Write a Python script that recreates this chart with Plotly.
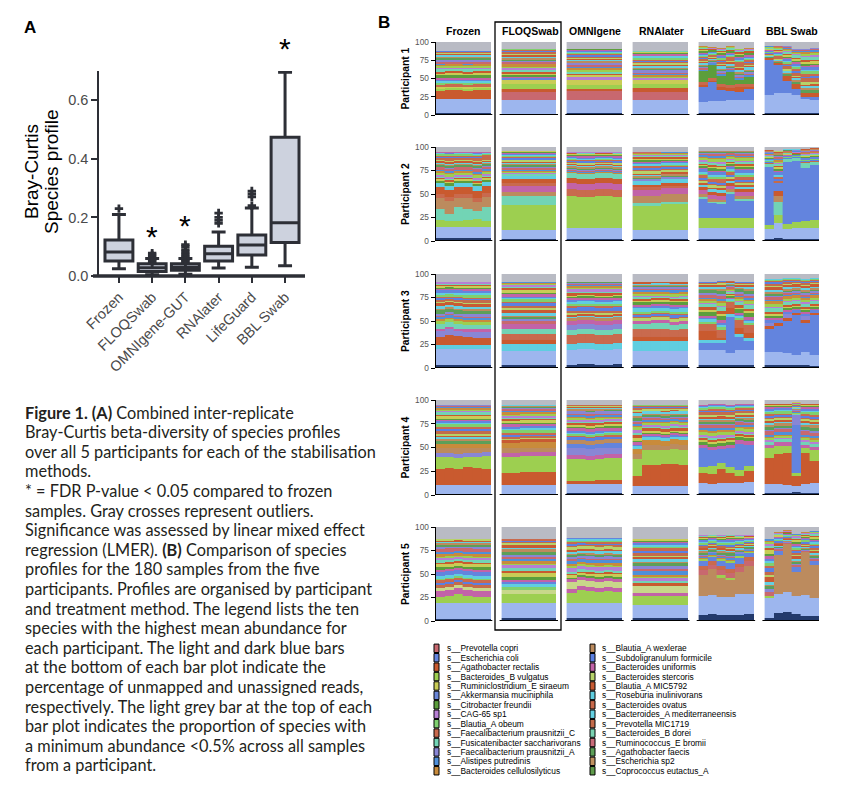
import plotly.graph_objects as go

W, H = 848, 804

# ---------------- Panel A data ----------------
METHODS_A = ["Frozen", "FLOQSwab", "OMNIgene-GUT", "RNAlater", "LifeGuard", "BBL Swab"]
BOX_Q1 = [0.051, 0.015, 0.020, 0.051, 0.072, 0.114]
BOX_MED = [0.082, 0.028, 0.030, 0.076, 0.106, 0.182]
BOX_Q3 = [0.123, 0.042, 0.042, 0.102, 0.140, 0.474]
BOX_LO = [0.025, 0.004, 0.006, 0.027, 0.030, 0.035]
BOX_HI = [0.210, 0.060, 0.060, 0.150, 0.232, 0.696]
OUT_FROZEN = [0.23]
OUT_FLOQ = [0.045, 0.05, 0.055, 0.06, 0.065, 0.072, 0.078]
OUT_OMNI = [0.045, 0.05, 0.055, 0.062, 0.068, 0.075, 0.082, 0.09, 0.1, 0.107]
OUT_RNA = [0.18, 0.19, 0.20, 0.215]
OUT_LG = [0.24, 0.27, 0.28, 0.29]
OUT_BBL = []
STAR_VALUES = [None, 0.147, 0.185, None, None, 0.79]
Y_MAX_A = 0.7
Y_TICKS_A = [0.0, 0.2, 0.4, 0.6]

# ---------------- Panel B data ----------------
METHODS_B = ["Frozen", "FLOQSwab", "OMNIgene", "RNAlater", "LifeGuard", "BBL Swab"]
PARTICIPANTS = ["Participant 1", "Participant 2", "Participant 3", "Participant 4", "Participant 5"]
Y_TICKS_B = [0, 25, 50, 75, 100]

SPECIES_COL1 = ["s__Prevotella copri", "s__Escherichia coli", "s__Agathobacter rectalis",
                "s__Bacteroides_B vulgatus", "s__Ruminiclostridium_E siraeum",
                "s__Akkermansia muciniphila", "s__Citrobacter freundii", "s__CAG-65 sp1",
                "s__Blautia_A obeum", "s__Faecalibacterium prausnitzii_C",
                "s__Fusicatenibacter saccharivorans", "s__Faecalibacterium prausnitzii_A",
                "s__Alistipes putredinis", "s__Bacteroides cellulosilyticus"]
COLORS_COL1 = ["#c8686f", "#6384de", "#c95a2f", "#9dcf50", "#c9cc56", "#6a86d8", "#5c9e3c",
               "#b77fd4", "#7fd06f", "#c96a4e", "#72d4b5", "#8986d5", "#4f8fd9", "#c98b3b"]
SPECIES_COL2 = ["s__Blautia_A wexlerae", "s__Subdoligranulum formicile", "s__Bacteroides uniformis",
                "s__Bacteroides stercoris", "s__Blautia_A MIC5792", "s__Roseburia inulinivorans",
                "s__Bacteroides ovatus", "s__Bacteroides_A mediterraneensis", "s__Prevotella MIC1719",
                "s__Bacteroides_B dorei", "s__Ruminococcus_E bromii", "s__Agathobacter faecis",
                "s__Escherichia sp2", "s__Coprococcus eutactus_A"]
COLORS_COL2 = ["#bc8b5e", "#5b80e2", "#c263a8", "#b7d26a", "#c85b33", "#60cee0", "#c8694b",
               "#64d0e2", "#c46b4b", "#79d1b1", "#c86b79", "#5d9f59", "#c09160", "#5f9b4b"]

PAL = {"NV": "#233a6c", "LB": "#9db6ee", "GR": "#b9bbc4",
       "PC": "#c8686f", "EC": "#6384de", "AR": "#c95a2f", "BV": "#9dcf50", "RS": "#c9cc56",
       "CF": "#5c9e3c", "CG": "#b77fd4", "FC": "#c96a4e", "FS": "#72d4b5", "FA": "#8986d5",
       "BC": "#c98b3b", "BW": "#bc8b5e", "BU": "#c263a8", "BS": "#c8d88a", "RI": "#60cee0"}

# minor species stripes (colour cycle and relative thickness)
STRIPE_COLORS = ["#c96a4e", "#7fd06f", "#60cee0", "#6384de", "#c263a8", "#5c9e3c", "#c9cc56",
                 "#c95a2f", "#72d4b5", "#b77fd4", "#9dcf50", "#c98b3b", "#4f8fd9", "#c8686f",
                 "#8986d5", "#5d9f59", "#bc8b5e", "#64d0e2", "#c85b33", "#b7d26a", "#c46b4b",
                 "#5b80e2"]
STRIPE_WEIGHTS = [2.5, 1.5, 2.0, 1.0, 2.0, 3.0, 1.5, 2.0, 2.5, 1.0, 2.0, 1.5,
                  1.0, 2.0, 1.5, 2.5, 1.0, 1.5, 1.5, 1.0, 1.0, 1.0]

P1_FROZEN = [("NV", 3), ("LB", 19), ("AR", [11, 12, 12, 11, 12, 12]), ("BV", 3), ("RS", 2)]
P1_FLOQ = [("NV", 2), ("LB", 18), ("PC", 11), ("AR", 4), ("BV", 7), ("RS", 6)]
P1_OMNI = [("NV", 3), ("LB", 17), ("PC", 13), ("AR", 3), ("BV", 5), ("RS", 7), ("CG", 4)]
P1_RNA = [("NV", 2), ("LB", 18), ("PC", 12), ("AR", 5), ("BV", 6), ("RS", 5)]
P1_LG = [("NV", 3), ("LB", [15, 16, 16, 17, 18, 18]), ("EC", [21, 26, 15, 13, 11, 14]),
         ("AR", [2, 2, 4, 4, 6, 3]), ("FC", 4), ("CF", [15, 18, 12, 18, 6, 10])]
P1_BBL = [("NV", 3), ("LB", [24, 27, 27, 25, 19, 18]), ("EC", [49, 38, 17, 8, 3, 3]),
          ("AR", [2, 3, 6, 6, 5, 6])]
P1_GREY = [12, 9, 10, 12, [6, 7, 8, 6, 9, 8], [5, 5, 6, 9, 9, 8]]

P2_FROZEN = [("NV", 3), ("LB", 12), ("BV", [7, 6, 6, 7, 8, 6]), ("FS", [12, 8, 15, 12, 9, 15]),
             ("BW", [12, 14, 10, 12, 10, 11]), ("FC", 4), ("AR", 7), ("RI", 5)]
P2_FLOQ = [("NV", 2), ("LB", 10), ("BV", 26), ("FS", 10), ("BW", 4), ("BU", 6), ("FC", 4),
           ("AR", 4), ("RI", 3)]
P2_OMNI = [("NV", 2), ("LB", 12), ("BV", [34, 33, 33, 34, 34, 33]), ("FC", 7), ("BU", 7),
           ("AR", 5), ("FS", 5)]
P2_RNA = [("NV", 2), ("LB", 10), ("BV", [25, 25, 25, 27, 27, 27]), ("FS", 3), ("BW", 8),
          ("BU", 6), ("FC", 3), ("AR", 3), ("RI", 4)]
P2_LG = [("NV", 2), ("LB", 12), ("BV", 10), ("EC", [21, 16, 15, 26, 19, 19]), ("FS", 2),
         ("BW", 3), ("BU", 4), ("AR", 3)]
P2_BBL = [("NV", [2, 3, 2, 2, 2, 2]), ("LB", [11, 16, 11, 12, 12, 12]), ("BV", [4, 9, 5, 6, 7, 8]),
          ("FS", [0, 14, 0, 0, 0, 0]), ("BW", [0, 6, 0, 0, 0, 0]), ("AR", [0, 5, 0, 0, 0, 0]),
          ("EC", [62, 9, 66, 65, 57, 59]), ("FS", [3, 0, 3, 3, 5, 3])]
P2_GREY = [5, 4, 5, 5, 4, [3, 4, 2, 2, 2, 1]]

P3_FROZEN = [("NV", 3), ("LB", 17), ("RI", 4), ("AR", [9, 11, 10, 9, 8, 8]),
             ("FA", [6, 6, 5, 5, 6, 6]), ("BU", 3), ("FS", 5)]
P3_FLOQ = [("NV", 3), ("LB", 15), ("RI", 8), ("AR", 4), ("FC", 6), ("FS", 6), ("BU", 5)]
P3_OMNI = [("NV", [3, 4, 4, 3, 3, 4]), ("LB", 16), ("RI", 7), ("FC", 9), ("FS", 5), ("FA", 6),
           ("BU", 4)]
P3_RNA = [("NV", 3), ("LB", 15), ("RI", 11), ("AR", 4), ("FC", [8, 8, 9, 9, 7, 8]), ("FS", 6),
          ("BU", 3)]
P3_LG = [("NV", 3), ("LB", [16, 16, 16, 13, 16, 16]), ("EC", [8, 8, 8, 38, 14, 10]), ("RI", 3),
         ("AR", [9, 9, 2, 7, 7, 5]), ("FC", 5)]
P3_BBL = [("NV", [3, 3, 3, 3, 3, 2]), ("LB", [14, 14, 13, 11, 14, 12]),
          ("EC", [25, 28, 34, 42, 31, 42]), ("AR", 3), ("FA", [3, 0, 4, 0, 4, 0])]
P3_GREY = [9, 8, 8, 9, [8, 8, 7, 7, 8, 8], [5, 5, 4, 4, 5, 4]]

P4_FROZEN = [("NV", 1), ("LB", 10), ("AR", [16, 17, 16, 19, 17, 16]), ("BV", [13, 12, 12, 10, 12, 14]),
             ("FA", 4), ("BW", [6, 6, 7, 6, 6, 5]), ("BC", 4)]
P4_FLOQ = [("NV", 1), ("LB", 10), ("AR", [12, 12, 13, 13, 13, 13]), ("BV", 17), ("BU", 4),
           ("BW", 5), ("BC", 6)]
P4_OMNI = [("NV", 2), ("LB", 10), ("AR", [3, 3, 3, 4, 4, 4]), ("BV", [23, 23, 22, 22, 23, 23]),
           ("BU", 4), ("FA", 7), ("EC", 5), ("BW", 4)]
P4_RNA = [("NV", 1), ("LB", 9), ("AR", [10, 22, 22, 23, 23, 22]), ("BV", [18, 15, 15, 14, 15, 15]),
          ("BW", [5, 6, 6, 5, 6, 6]), ("BC", 5)]
P4_LG = [("NV", 2), ("LB", [11, 10, 11, 11, 11, 12]), ("AR", [10, 10, 14, 10, 7, 11]),
         ("BV", [7, 9, 7, 6, 6, 6]), ("EC", [19, 16, 14, 20, 28, 22]), ("BU", 4)]
P4_BBL = [("NV", [2, 2, 2, 3, 2, 2]), ("LB", [10, 10, 9, 6, 10, 11]), ("AR", [27, 31, 33, 11, 32, 23]),
          ("BV", [10, 9, 8, 3, 6, 11]), ("EC", [0, 0, 0, 51, 0, 0]), ("FA", [0, 0, 0, 10, 0, 0]),
          ("BU", [4, 4, 4, 0, 3, 4])]
P4_GREY = [5, 5, 5, 5, [5, 4, 4, 5, 4, 4], [4, 4, 4, 2, 4, 4]]

P5_FROZEN = [("NV", 2), ("LB", 17), ("BV", [7, 8, 10, 8, 7, 7]), ("BU", 6), ("BS", 3)]
P5_FLOQ = [("NV", 3), ("LB", 16), ("BV", 10), ("BS", 4)]
P5_OMNI = [("NV", 3), ("LB", 16), ("BV", [11, 14, 13, 12, 13, 12]), ("BU", 4), ("BS", 7)]
P5_RNA = [("NV", 3), ("LB", 14), ("BV", 10), ("BU", 3), ("BS", 7)]
P5_LG = [("NV", [6, 7, 6, 6, 6, 7]), ("LB", [21, 21, 20, 20, 23, 22]), ("BW", [22, 27, 20, 18, 23, 30]),
         ("BV", [0, 0, 3, 2, 0, 0]), ("PC", 5), ("FC", 4), ("EC", [6, 4, 6, 7, 6, 4])]
P5_BBL = [("NV", [3, 9, 10, 7, 5, 5]), ("LB", [21, 20, 21, 20, 23, 20]), ("BV", [3, 0, 0, 0, 0, 0]),
          ("BW", [0, 41, 51, 25, 45, 35]), ("EC", [0, 5, 0, 5, 0, 4])]
P5_GREY = [13, 13, 12, 13, [9, 8, 9, 8, 9, 9], [13, 5, 3, 7, 5, 4]]

ROWS = [[P1_FROZEN, P1_FLOQ, P1_OMNI, P1_RNA, P1_LG, P1_BBL],
        [P2_FROZEN, P2_FLOQ, P2_OMNI, P2_RNA, P2_LG, P2_BBL],
        [P3_FROZEN, P3_FLOQ, P3_OMNI, P3_RNA, P3_LG, P3_BBL],
        [P4_FROZEN, P4_FLOQ, P4_OMNI, P4_RNA, P4_LG, P4_BBL],
        [P5_FROZEN, P5_FLOQ, P5_OMNI, P5_RNA, P5_LG, P5_BBL]]
GREYS = [P1_GREY, P2_GREY, P3_GREY, P4_GREY, P5_GREY]

CAPTION = [
    "<b>Figure 1. (A)</b> Combined inter-replicate",
    "Bray-Curtis beta-diversity of species profiles",
    "over all 5 participants for each of the stabilisation",
    "methods.",
    "* = FDR P-value &lt; 0.05 compared to frozen",
    "samples. Gray crosses represent outliers.",
    "Significance was assessed by linear mixed effect",
    "regression (LMER). <b>(B)</b> Comparison of species",
    "profiles for the 180 samples from the five",
    "participants. Profiles are organised by participant",
    "and treatment method. The legend lists the ten",
    "species with the highest mean abundance for",
    "each participant. The light and dark blue bars",
    "at the bottom of each bar plot indicate the",
    "percentage of unmapped and unassigned reads,",
    "respectively. The light grey bar at the top of each",
    "bar plot indicates the proportion of species with",
    "a minimum abundance &lt;0.5% across all samples",
    "from a participant.",
]

# ---------------- helpers ----------------
def px(x):
    return x / W


def py(y):
    return 1 - y / H


DARK = "#2d2f36"
FONT = "Liberation Sans, Arial, sans-serif"

fig = go.Figure()
shapes = []
annotations = []


def note(x, y, text, size, xanchor="center", yanchor="middle", angle=0, color="black",
         family=FONT):
    annotations.append(dict(x=px(x), y=py(y), xref="paper", yref="paper", text=text,
                            xanchor=xanchor, yanchor=yanchor, textangle=angle, showarrow=False,
                            font=dict(size=size, color=color, family=family)))


# ---------------- Panel A ----------------
fig.add_trace(go.Box(
    x=METHODS_A, q1=BOX_Q1, median=BOX_MED, q3=BOX_Q3,
    lowerfence=BOX_LO, upperfence=BOX_HI, boxpoints=False,
    fillcolor="#cdd2de", line=dict(color=DARK, width=3), width=0.84, whiskerwidth=0.5,
    xaxis="x", yaxis="y", showlegend=False, hoverinfo="skip"))

outs = [OUT_FROZEN, OUT_FLOQ, OUT_OMNI, OUT_RNA, OUT_LG, OUT_BBL]
ox, oy = [], []
for cat, vals in zip(METHODS_A, outs):
    for v in vals:
        ox.append(cat)
        oy.append(v)
fig.add_trace(go.Scatter(x=ox, y=oy, mode="markers", xaxis="x", yaxis="y",
                         marker=dict(symbol="cross", size=7, color=DARK),
                         showlegend=False, hoverinfo="skip"))

layout = dict(
    width=W, height=H, margin=dict(l=0, r=0, t=0, b=0, pad=0, autoexpand=False),
    autosize=False, showlegend=False,
    paper_bgcolor="white", plot_bgcolor="white",
    barmode="stack", bargap=0, font=dict(family=FONT, color="#222"),
    xaxis=dict(domain=[px(99), px(305)], type="category", range=[-0.6, 5.6], anchor="y",
               showline=False, showgrid=False, zeroline=False, automargin=False,
               ticks="outside", ticklen=6, tickwidth=2, tickcolor=DARK,
               tickangle=-45, tickfont=dict(size=14.5, color="#4a4a4a", family=FONT)),
    yaxis=dict(domain=[py(276), py(71)], range=[0, Y_MAX_A], anchor="x", automargin=False,
               tickvals=Y_TICKS_A, ticktext=[f"{v:.1f}" for v in Y_TICKS_A],
               showline=True, linecolor=DARK, linewidth=1.5, showgrid=False, zeroline=False,
               ticks="outside", ticklen=6, tickwidth=1.5, tickcolor=DARK,
               tickfont=dict(size=14.5, color="#4a4a4a", family=FONT)),
)
# thick x axis line of panel A
shapes.append(dict(type="line", xref="paper", yref="paper", x0=px(93), x1=px(305),
                   y0=py(276), y1=py(276), line=dict(color=DARK, width=3.5)))

# stars (placed relative to the y-axis domain so values above the range still show)
for i, sv in enumerate(STAR_VALUES):
    if sv is None:
        continue
    annotations.append(dict(x=METHODS_A[i], y=sv / Y_MAX_A, xref="x", yref="y domain", text="*",
                            showarrow=False, xanchor="center", yanchor="middle", yshift=-4,
                            font=dict(size=30, color="black", family=FONT)))

note(31, 172, "Bray-Curtis", 19, angle=-90)
note(51, 172, "Species profile", 19, angle=-90)
note(30, 27, "<b>A</b>", 17)
note(384, 22, "<b>B</b>", 17)

# ---------------- Panel B ----------------
ROW_PX = [(42, 115), (147, 241), (274, 368), (400, 495), (527, 621)]
CELL_STEP = 7.2
for r in range(5):
    ax = r + 2
    xname, yname = f"x{ax}", f"y{ax}"
    top, bot = ROW_PX[r]
    layout[f"xaxis{ax}"] = dict(domain=[px(435.7), px(819)], range=[-0.5, 5 * CELL_STEP + 5.5],
                                anchor=yname, visible=False, fixedrange=True, automargin=False)
    layout[f"yaxis{ax}"] = dict(domain=[py(bot), py(top)], range=[0, 100], anchor=xname,
                                automargin=False,
                                tickvals=Y_TICKS_B, showline=True, linecolor="black", linewidth=1.2,
                                ticks="outside", ticklen=4, tickwidth=1, tickcolor="black",
                                showgrid=False, zeroline=False,
                                tickfont=dict(size=8.3, color="#555", family=FONT))
    bars, xs = [], []
    for m in range(6):
        cell = ROWS[r][m]
        g_all = GREYS[r][m]
        for j in range(6):
            segs = []
            for key, v in cell:
                val = v[j] if isinstance(v, list) else v
                if val > 0:
                    segs.append((PAL[key], val))
            g = g_all[j] if isinstance(g_all, list) else g_all
            rem = 100 - sum(s[1] for s in segs) - g
            tw = sum(STRIPE_WEIGHTS)
            shift = (r * 5 + m * 3) % len(STRIPE_COLORS)
            for i, w in enumerate(STRIPE_WEIGHTS):
                segs.append((STRIPE_COLORS[(i + shift) % len(STRIPE_COLORS)], rem * w / tw))
            segs.append((PAL["GR"], g))
            bars.append(segs)
            xs.append(m * CELL_STEP + j)
    K = max(len(s) for s in bars)
    for k in range(K):
        ys = [s[k][1] if k < len(s) else 0 for s in bars]
        cs = [s[k][0] if k < len(s) else "white" for s in bars]
        fig.add_trace(go.Bar(x=xs, y=ys, width=1.0, xaxis=xname, yaxis=yname,
                             marker=dict(color=cs, line=dict(color=cs, width=0.4)),
                             showlegend=False, hoverinfo="skip"))
    for m in range(6):
        shapes.append(dict(type="line", xref=xname, yref=yname,
                           x0=m * CELL_STEP - 0.7, x1=m * CELL_STEP + 5.7, y0=0, y1=0,
                           line=dict(color="black", width=2)))
    note(405, (top + bot) / 2, f"<b>{PARTICIPANTS[r]}</b>", 10.3, angle=-90)

COL_CENTERS = [463, 530, 595, 661, 726, 792]
for m in range(6):
    note(COL_CENTERS[m], 31, f"<b>{METHODS_B[m]}</b>", 10.5)

# FLOQSwab frame
shapes.append(dict(type="rect", xref="paper", yref="paper", x0=px(495), x1=px(561),
                   y0=py(630), y1=py(22), line=dict(color="black", width=1.3)))

# legend
for col, (names, cols, sx, tx) in enumerate([(SPECIES_COL1, COLORS_COL1, 434, 445),
                                              (SPECIES_COL2, COLORS_COL2, 590, 600)]):
    for i, (nm, c) in enumerate(zip(names, cols)):
        yc = 648.3 + i * 9.42
        shapes.append(dict(type="rect", xref="paper", yref="paper", x0=px(sx), x1=px(sx + 5),
                           y0=py(yc + 4.2), y1=py(yc - 4.2), fillcolor=c,
                           line=dict(color="black", width=1)))
        note(tx, yc, nm, 8.4, xanchor="left")

# caption
for i, line in enumerate(CAPTION):
    note(23, 412 + i * 19.6, line, 16.3, xanchor="left", color="#231f20",
         family="Lato, sans-serif")

layout["shapes"] = shapes
layout["annotations"] = annotations
fig.update_layout(**layout)
fig.write_html("out.html", config={"displayModeBar": False},
               post_script="document.body.style.margin='0px';")
